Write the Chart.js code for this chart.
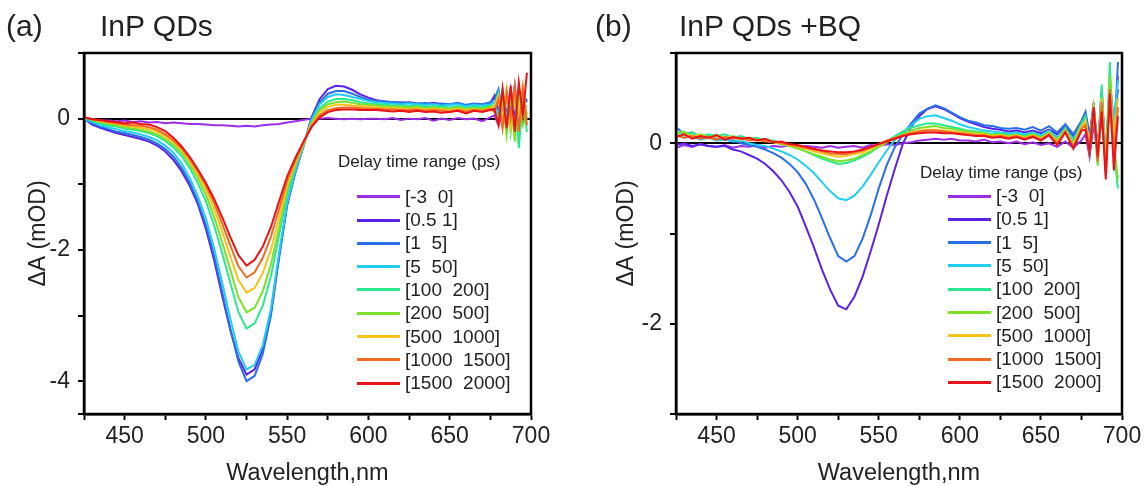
<!DOCTYPE html>
<html>
<head>
<meta charset="utf-8">
<script src="https://cdn.jsdelivr.net/npm/chart.js@4.4.1/dist/chart.umd.min.js"></script>
<style>
  body { margin: 0; width: 1146px; height: 486px; overflow: hidden; background: #fff;
         font-family: "Liberation Sans", Arial, sans-serif; color: #222; position: relative; }
  canvas { position: absolute; top: 0; }
  .lab { position: absolute; top: 9px; font-size: 30px; white-space: pre; }
  .ltitle { position: absolute; font-size: 17px; line-height: 20px; white-space: pre; }
  .lrow { position: absolute; height: 24px; display: flex; align-items: center; font-size: 19px; white-space: pre; }
  .lrow span.sw { display: inline-block; width: 43px; height: 3px; margin-right: 5px; }
</style>
</head>
<body>
<canvas id="chartA" width="573" height="486" style="left:0"></canvas>
<canvas id="chartB" width="573" height="486" style="left:573px"></canvas>
<div class="lab" style="left:6px">(a)</div>
<div class="lab" style="left:100px">InP QDs</div>
<div class="lab" style="left:595px">(b)</div>
<div class="lab" style="left:679px">InP QDs +BQ</div>

<script>
// wavelength grid (nm)
const wavelength = [425,430,435,440,445,450,455,460,465,470,475,480,485,490,495,500,505,510,515,520,
  525,530,535,540,545,550,555,560,565,570,575,580,585,590,595,600,
  605,610,615,620,625,630,635,640,645,650,655,660,665,670,675,
  677.5,680,682.5,685,687.5,690,692.5,695,697.5,700];

const delayLabels = ['[-3  0]', '[0.5 1]', '[1  5]', '[5  50]', '[100  200]', '[200  500]',
  '[500  1000]', '[1000  1500]', '[1500  2000]'];
const lineColors = ['#9b2fe6', '#5a22e6', '#2a6ee8', '#22cdf2', '#2ae890', '#7ee02a',
  '#f6c31c', '#f26a22', '#e8141a'];

// (a) InP QDs, dA in mOD
const a0 = [0.0,-0.02,-0.03,-0.03,-0.04,-0.03,-0.05,-0.04,-0.06,-0.05,-0.07,-0.06,-0.07,-0.08,-0.08,-0.09,-0.1,-0.1,-0.11,-0.12,-0.11,-0.12,-0.1,-0.09,-0.08,-0.06,-0.04,-0.02,0.0,0.0,0.01,0.0,-0.01,0.0,-0.01,0.0,
  0.0,-0.01,0.01,-0.02,0.0,-0.01,0.01,-0.03,0.0,-0.02,0.01,-0.01,0.0,-0.04,0.02,
  0.05,-0.1,0.08,-0.12,0.05,-0.15,0.1,-0.05,0.0];
const a1 = [0.0,-0.09,-0.14,-0.18,-0.22,-0.25,-0.28,-0.31,-0.35,-0.41,-0.5,-0.63,-0.8,-1.02,-1.3,-1.68,-2.15,-2.7,-3.22,-3.65,-3.9,-3.82,-3.5,-2.95,-2.1,-1.3,-0.82,-0.42,0.02,0.3,0.45,0.5,0.49,0.44,0.37,0.32,
  0.28,0.26,0.25,0.24,0.25,0.23,0.22,0.24,0.22,0.21,0.23,0.2,0.22,0.21,0.24,
  0.35,0.1,0.4,0.05,0.45,0.0,0.4,0.2,0.3];
const a2 = [0.0,-0.07,-0.12,-0.16,-0.2,-0.22,-0.25,-0.28,-0.32,-0.38,-0.46,-0.58,-0.75,-0.97,-1.26,-1.62,-2.08,-2.64,-3.2,-3.7,-4.0,-3.92,-3.58,-3.0,-2.12,-1.32,-0.82,-0.42,0.0,0.25,0.38,0.42,0.42,0.38,0.33,0.29,
  0.27,0.26,0.25,0.25,0.24,0.23,0.24,0.22,0.23,0.22,0.24,0.21,0.23,0.22,0.25,
  0.3,0.45,0.05,0.4,0.1,0.5,-0.05,0.35,0.25];
const a3 = [0.0,-0.05,-0.1,-0.13,-0.16,-0.19,-0.21,-0.24,-0.28,-0.33,-0.41,-0.52,-0.68,-0.9,-1.18,-1.52,-1.97,-2.5,-3.05,-3.55,-3.82,-3.75,-3.45,-2.9,-2.05,-1.28,-0.8,-0.42,-0.02,0.22,0.33,0.37,0.36,0.33,0.3,0.27,
  0.25,0.24,0.23,0.22,0.23,0.22,0.21,0.22,0.2,0.21,0.22,0.19,0.21,0.2,0.22,
  0.25,0.05,0.45,0.0,0.35,-0.1,0.45,0.1,0.2];
const a4 = [0.02,-0.03,-0.07,-0.1,-0.12,-0.15,-0.17,-0.19,-0.22,-0.27,-0.34,-0.44,-0.57,-0.75,-0.98,-1.26,-1.62,-2.05,-2.5,-2.95,-3.2,-3.12,-2.85,-2.4,-1.78,-1.15,-0.74,-0.4,-0.05,0.16,0.26,0.3,0.3,0.28,0.25,0.23,
  0.22,0.21,0.2,0.2,0.19,0.2,0.18,0.19,0.18,0.17,0.19,0.16,0.18,0.17,0.2,
  0.2,0.4,-0.1,0.35,-0.2,0.45,-0.45,0.3,-0.2];
const a5 = [0.02,-0.02,-0.05,-0.08,-0.1,-0.13,-0.15,-0.17,-0.2,-0.24,-0.31,-0.4,-0.52,-0.69,-0.9,-1.16,-1.49,-1.88,-2.3,-2.72,-2.95,-2.88,-2.63,-2.22,-1.66,-1.08,-0.71,-0.39,-0.07,0.13,0.22,0.25,0.26,0.24,0.22,0.21,
  0.2,0.19,0.18,0.18,0.17,0.18,0.16,0.17,0.16,0.15,0.17,0.15,0.16,0.15,0.18,
  0.15,-0.05,0.3,-0.25,0.4,-0.35,0.35,-0.1,0.1];
const a6 = [0.02,-0.01,-0.04,-0.06,-0.08,-0.11,-0.12,-0.14,-0.16,-0.2,-0.27,-0.36,-0.48,-0.64,-0.84,-1.08,-1.37,-1.72,-2.1,-2.46,-2.65,-2.58,-2.35,-2.0,-1.52,-1.0,-0.68,-0.38,-0.09,0.09,0.18,0.21,0.21,0.2,0.19,0.18,
  0.17,0.16,0.16,0.15,0.15,0.16,0.14,0.15,0.14,0.13,0.15,0.13,0.14,0.13,0.16,
  0.2,0.35,0.0,0.45,-0.15,0.3,0.05,0.5,0.0];
const a7 = [0.02,-0.01,-0.03,-0.05,-0.07,-0.09,-0.1,-0.11,-0.13,-0.17,-0.24,-0.33,-0.45,-0.61,-0.8,-1.02,-1.28,-1.6,-1.93,-2.25,-2.42,-2.34,-2.12,-1.8,-1.38,-0.94,-0.64,-0.37,-0.11,0.05,0.13,0.16,0.17,0.17,0.16,0.15,
  0.15,0.14,0.14,0.13,0.13,0.14,0.12,0.13,0.12,0.11,0.13,0.11,0.13,0.12,0.15,
  0.1,0.3,-0.15,0.4,0.0,0.5,-0.2,0.45,-0.1];
const a8 = [0.02,-0.01,-0.02,-0.04,-0.05,-0.07,-0.06,-0.08,-0.09,-0.13,-0.19,-0.29,-0.42,-0.58,-0.77,-0.98,-1.22,-1.5,-1.8,-2.08,-2.24,-2.15,-1.95,-1.65,-1.26,-0.88,-0.6,-0.35,-0.13,0.02,0.1,0.13,0.14,0.14,0.13,0.13,
  0.13,0.12,0.11,0.12,0.1,0.12,0.1,0.11,0.09,0.1,0.12,0.08,0.12,0.1,0.13,
  0.15,-0.1,0.45,-0.15,0.5,-0.2,0.55,0.05,0.7];

// (b) InP QDs + BQ
const b0 = [-0.05,-0.02,-0.04,-0.01,-0.03,-0.04,-0.02,-0.05,-0.03,-0.04,-0.02,-0.05,-0.03,-0.04,-0.02,-0.05,-0.03,-0.04,-0.05,-0.03,-0.05,-0.04,-0.03,-0.05,-0.02,-0.03,-0.01,-0.02,0.0,0.01,0.03,0.04,0.05,0.04,0.05,0.03,
  0.03,0.02,0.04,0.01,0.02,0.0,0.02,-0.01,0.01,-0.02,0.0,-0.04,0.02,-0.05,0.03,
  0.1,-0.15,0.2,-0.1,0.3,-0.2,0.5,0.1,0.75];
const b1 = [-0.02,0.0,-0.03,-0.01,-0.03,-0.04,-0.03,-0.07,-0.09,-0.13,-0.17,-0.23,-0.31,-0.41,-0.54,-0.7,-0.92,-1.15,-1.4,-1.62,-1.8,-1.84,-1.7,-1.48,-1.2,-0.9,-0.58,-0.28,0.0,0.18,0.3,0.38,0.41,0.38,0.33,0.28,
  0.24,0.21,0.18,0.16,0.15,0.13,0.14,0.12,0.14,0.11,0.15,0.1,0.18,0.08,0.22,
  0.3,0.05,0.45,-0.1,0.55,-0.2,0.7,0.2,0.6];
const b2 = [0.18,0.1,0.12,0.06,0.08,0.05,0.04,0.03,0.0,-0.02,-0.04,-0.07,-0.11,-0.16,-0.23,-0.32,-0.45,-0.62,-0.83,-1.05,-1.25,-1.31,-1.25,-1.06,-0.8,-0.5,-0.24,-0.04,0.1,0.22,0.33,0.38,0.42,0.39,0.34,0.29,
  0.25,0.23,0.2,0.19,0.17,0.16,0.17,0.15,0.18,0.14,0.19,0.12,0.21,0.1,0.25,
  0.35,0.1,0.4,-0.05,0.6,-0.25,0.65,0.0,0.9];
const b3 = [0.1,0.06,0.08,0.04,0.06,0.03,0.04,0.02,0.03,0.0,-0.02,-0.03,-0.06,-0.09,-0.13,-0.18,-0.25,-0.33,-0.43,-0.53,-0.61,-0.63,-0.58,-0.48,-0.35,-0.21,-0.08,0.04,0.12,0.2,0.27,0.3,0.31,0.28,0.25,0.21,
  0.18,0.16,0.14,0.13,0.12,0.11,0.12,0.1,0.12,0.09,0.14,0.07,0.16,0.05,0.2,
  0.25,0.0,0.35,-0.15,0.5,-0.1,0.6,0.25,0.7];
const b4 = [0.13,0.09,0.12,0.07,0.1,0.08,0.1,0.06,0.08,0.05,0.06,0.03,0.03,0.0,-0.02,-0.05,-0.09,-0.13,-0.17,-0.2,-0.23,-0.22,-0.19,-0.15,-0.1,-0.04,0.02,0.08,0.13,0.17,0.2,0.22,0.22,0.2,0.18,0.16,
  0.14,0.13,0.12,0.1,0.11,0.09,0.1,0.08,0.11,0.07,0.13,0.04,0.17,0.02,0.22,
  0.3,-0.05,0.45,-0.2,0.65,-0.3,0.9,-0.1,-0.5];
const b5 = [0.11,0.13,0.08,0.1,0.07,0.09,0.06,0.08,0.05,0.06,0.04,0.03,0.01,-0.01,-0.03,-0.06,-0.09,-0.12,-0.15,-0.18,-0.2,-0.19,-0.17,-0.13,-0.09,-0.04,0.01,0.06,0.1,0.14,0.17,0.18,0.19,0.17,0.16,0.14,
  0.13,0.12,0.11,0.09,0.1,0.08,0.09,0.07,0.1,0.06,0.12,0.03,0.15,0.0,0.2,
  0.2,-0.1,0.35,-0.25,0.5,-0.2,0.75,0.0,-0.4];
const b6 = [0.08,0.1,0.07,0.09,0.05,0.08,0.06,0.07,0.04,0.06,0.03,0.03,0.01,0.0,-0.02,-0.04,-0.06,-0.09,-0.11,-0.13,-0.15,-0.14,-0.12,-0.1,-0.06,-0.02,0.02,0.06,0.09,0.12,0.14,0.15,0.15,0.14,0.13,0.12,
  0.11,0.1,0.1,0.08,0.09,0.07,0.09,0.06,0.09,0.05,0.11,0.02,0.14,-0.02,0.18,
  0.25,0.0,0.4,-0.1,0.5,-0.3,0.55,0.1,0.5];
const b7 = [0.09,0.06,0.08,0.05,0.07,0.04,0.07,0.05,0.06,0.03,0.04,0.02,0.02,0.0,-0.01,-0.03,-0.05,-0.07,-0.09,-0.11,-0.12,-0.12,-0.1,-0.08,-0.05,-0.01,0.03,0.06,0.09,0.11,0.13,0.14,0.14,0.13,0.12,0.11,
  0.1,0.09,0.09,0.07,0.08,0.06,0.08,0.05,0.08,0.04,0.1,0.0,0.13,-0.04,0.16,
  0.2,-0.05,0.35,-0.2,0.45,-0.35,0.6,-0.15,0.4];
const b8 = [0.07,0.1,0.05,0.08,0.06,0.09,0.04,0.07,0.05,0.06,0.03,0.05,0.01,0.02,-0.01,-0.02,-0.04,-0.06,-0.08,-0.09,-0.1,-0.1,-0.09,-0.07,-0.04,-0.01,0.02,0.05,0.08,0.1,0.11,0.12,0.12,0.11,0.11,0.1,
  0.09,0.08,0.08,0.06,0.07,0.05,0.07,0.04,0.07,0.03,0.09,-0.02,0.12,-0.06,0.14,
  0.15,-0.1,0.4,-0.15,0.35,-0.4,0.55,-0.3,0.3];

const seriesA = [a0, a1, a2, a3, a4, a5, a6, a7, a8];
const seriesB = [b0, b1, b2, b3, b4, b5, b6, b7, b8];

const FONT = '"Liberation Sans", Arial, sans-serif';
Chart.defaults.font.family = FONT;

// box around the plot
const frame = {
  id: 'frame',
  afterDraw(chart) {
    const { ctx, chartArea: a } = chart;
    ctx.save();
    ctx.strokeStyle = '#000';
    ctx.lineWidth = 2.5;
    ctx.strokeRect(a.left, a.top, a.right - a.left, a.bottom - a.top);
    ctx.restore();
  }
};

function makeChart(id, series, yMin, yMax, yAxisW, padRight, yTitlePad) {
  return new Chart(document.getElementById(id), {
    type: 'line',
    data: {
      datasets: series.map((vals, i) => ({
        label: delayLabels[i],
        data: wavelength.map((w, j) => ({ x: w, y: vals[j] })),
        borderColor: lineColors[i],
        borderWidth: 2,
        pointRadius: 0,
        order: series.length - i
      }))
    },
    options: {
      responsive: false,
      animation: false,
      layout: { padding: { top: 53, right: padRight, left: 0, bottom: 0 } },
      plugins: { legend: { display: false }, tooltip: { enabled: false } },
      scales: {
        x: {
          type: 'linear', min: 425, max: 700,
          afterFit: s => { s.height = 72; },
          ticks: { stepSize: 25, autoSkip: false, maxRotation: 0, padding: 3, color: '#222',
                   font: { size: 23 }, callback: v => (v % 50 === 0 ? String(v) : '') },
          grid: { drawOnChartArea: false, tickLength: 6, tickWidth: 2, tickColor: '#000' },
          border: { display: true, color: '#000', width: 2.5 },
          title: { display: true, text: 'Wavelength,nm', color: '#222', font: { size: 23.5 },
                   padding: { top: 0, bottom: -2 } }
        },
        y: {
          min: yMin, max: yMax, z: 1,
          afterFit: s => { s.width = yAxisW; },
          ticks: { stepSize: 1, autoSkip: false, padding: 8, color: '#222', font: { size: 23 },
                   callback: v => (v % 2 === 0 ? String(v) : '') },
          grid: {
            drawOnChartArea: true,
            color: c => (c.tick && c.tick.value === 0 ? '#000' : 'rgba(0,0,0,0)'),
            lineWidth: c => (c.tick && c.tick.value === 0 ? 2 : 0),
            tickLength: 6, tickWidth: 2, tickColor: '#000'
          },
          border: { display: true, color: '#000', width: 2.5 },
          title: { display: true, text: 'ΔA (mOD)', color: '#222', font: { size: 23 },
                   padding: { top: yTitlePad, bottom: 0 } }
        }
      }
    },
    plugins: [frame]
  });
}

makeChart('chartA', seriesA, -4.5, 1, 84, 42, 25);
makeChart('chartB', seriesB, -3, 1, 103, 24, 40);

// legends (html, built from the label/colour lists)
function buildLegend(titleLeft, titleTop, swLeft, firstRow) {
  const t = document.createElement('div');
  t.className = 'ltitle';
  t.style.left = titleLeft + 'px';
  t.style.top = titleTop + 'px';
  t.textContent = 'Delay time range (ps)';
  document.body.appendChild(t);
  delayLabels.forEach((lab, i) => {
    const row = document.createElement('div');
    row.className = 'lrow';
    row.style.left = swLeft + 'px';
    row.style.top = (firstRow + 23.3 * i - 12) + 'px';
    const sw = document.createElement('span');
    sw.className = 'sw';
    sw.style.background = lineColors[i];
    row.appendChild(sw);
    row.appendChild(document.createTextNode(lab));
    document.body.appendChild(row);
  });
}
buildLegend(338, 152, 357, 196.7);
buildLegend(920, 163, 948, 196);
</script>
</body>
</html>
